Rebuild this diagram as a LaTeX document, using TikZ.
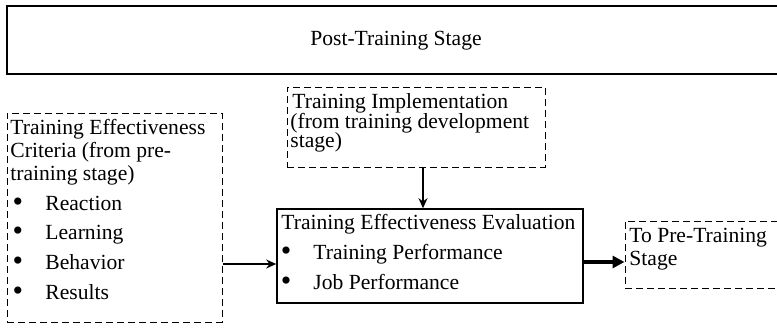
\documentclass[tikz,border=0pt]{standalone}
\usepackage{fontspec}
\setmainfont{Liberation Serif}
\usetikzlibrary{arrows.meta}
\begin{document}
\begin{tikzpicture}[x=0.5pt,y=-0.5pt,
  txt/.style={font=\fontsize{10.8}{12}\selectfont, inner sep=0pt, anchor=base west},
  bul/.style={font=\fontsize{15}{15}\selectfont, inner sep=0pt, anchor=center},
  solidbox/.style={draw, rectangle, inner sep=0pt},
  dashbox/.style={draw, rectangle, inner sep=0pt, line width=0.5pt, dash pattern=on 3.5pt off 2pt},
  thinarrow/.style={line width=0.8pt, -{Stealth[length=5pt,width=4.5pt]}},
  thickarrow/.style={line width=2pt, -{Triangle[length=6pt,width=6pt]}}
]
\useasboundingbox (0,0) rectangle (777,332);
% boxes
\node[solidbox, line width=1pt, minimum width=386.5pt, minimum height=34pt] (post) at (393.5,40) {};
\node[txt, anchor=center] (posttxt) at (396,41) {Post-Training Stage};
\node[dashbox, minimum width=107.5pt, minimum height=104.5pt] (crit) at (114.5,217.5) {};
\node[dashbox, minimum width=129pt, minimum height=40pt] (impl) at (416,127) {};
\node[solidbox, line width=0.8pt, minimum width=153pt, minimum height=47pt] (eval) at (430,256) {};
\node[dashbox, minimum width=76.5pt, minimum height=33.5pt] (pre) at (701.5,254.5) {};
% criteria text
\node[txt] (c1) at (10,134) {Training Effectiveness};
\node[txt] (c2) at (10,157) {Criteria (from pre-};
\node[txt] (c3) at (10,180) {training stage)};
\node[bul] (b1) at (18,205) {•};
\node[txt] (i1) at (45,210) {Reaction};
\node[bul] (b2) at (18,234) {•};
\node[txt] (i2) at (45,239) {Learning};
\node[bul] (b3) at (18,264) {•};
\node[txt] (i3) at (45,269) {Behavior};
\node[bul] (b4) at (18,294) {•};
\node[txt] (i4) at (45,299) {Results};
% implementation text
\node[txt] (m1) at (292,108) {Training Implementation};
\node[txt] (m2) at (290,128) {(from training development};
\node[txt] (m3) at (290,147) {stage)};
% evaluation text
\node[txt] (e1) at (281,229) {Training Effectiveness Evaluation};
\node[bul] (eb1) at (286,254) {•};
\node[txt] (ei1) at (313,259) {Training Performance};
\node[bul] (eb2) at (286,284) {•};
\node[txt] (ei2) at (313,289) {Job Performance};
% pre text
\node[txt] (p1) at (629,242) {To Pre-Training};
\node[txt] (p2) at (629,265) {Stage};
% connectors
\coordinate (ya) at (0,264);
\coordinate (yb) at (0,262);
\draw[thinarrow] ([xshift=3.5pt]impl.south) -- ([xshift=3.5pt]impl.south |- eval.north);
\draw[thinarrow] (crit.east |- ya) -- (eval.west |- ya);
\draw[thickarrow] (eval.east |- yb) -- (pre.west |- yb);
\end{tikzpicture}
\end{document}
